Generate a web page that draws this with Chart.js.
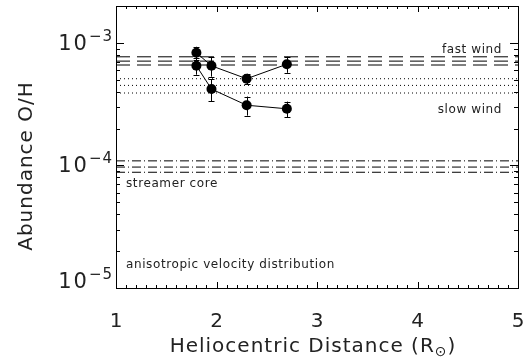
<!DOCTYPE html>
<html>
<head>
<meta charset="UTF-8">
<title>O/H abundance</title>
<script src="https://cdn.jsdelivr.net/npm/chart.js"></script>
<style>
  html, body { margin: 0; padding: 0; background: #fff; }
  #wrap { width: 524px; height: 364px; }
</style>
</head>
<body>
<div id="wrap"><canvas id="c" width="524" height="364"></canvas></div>
<script>
// measured points (two runs), abundance O/H vs heliocentric distance
const distance = [1.8, 1.95, 2.3, 2.7];
const upperOH  = [8.3e-4, 6.5e-4, 5.1e-4, 6.7e-4];
const upperErr = [1.0e-4, 1.2e-4, 0.5e-4, 1.0e-4];
const lowerOH  = [6.5e-4, 4.2e-4, 3.1e-4, 2.9e-4];
const lowerErr = [1.0e-4, 0.85e-4, 0.55e-4, 0.42e-4];

// reference levels
const fastWind = [7.7e-4, 7.1e-4, 6.6e-4];
const slowWind = [5.1e-4, 4.5e-4, 3.9e-4];
const streamerCore = [1.09e-4, 0.97e-4, 0.88e-4];

const xTicks = [1, 2, 3, 4, 5];
const yTicks = [-5, -4, -3];

const FONT = '"DejaVu Sans", sans-serif';
const INK = '#222';

function hline(v, dash) {
  return {
    data: [{ x: 1, y: v }, { x: 5, y: v }],
    borderColor: '#000', borderWidth: 1, borderDash: dash,
    pointRadius: 0, fill: false, order: 2
  };
}

function seriesSet(ys) {
  return {
    data: distance.map((d, i) => ({ x: d, y: ys[i] })),
    borderColor: '#000', borderWidth: 1,
    pointRadius: 5, pointBackgroundColor: '#000', pointBorderColor: '#000',
    pointBorderWidth: 0, fill: false, order: 1
  };
}

const datasets = [
  ...fastWind.map(v => hline(v, [14, 7])),
  ...slowWind.map(v => hline(v, [1, 3])),
  ...streamerCore.map(v => hline(v, [9, 3, 1, 3])),
  seriesSet(upperOH),
  seriesSet(lowerOH)
];

// IDL style frame, inward ticks, labels and annotations
const idlAxes = {
  id: 'idlAxes',
  beforeDatasetsDraw(chart) {
    const { ctx, chartArea: a, scales: { x, y } } = chart;
    ctx.save();
    ctx.strokeStyle = '#000';
    ctx.lineWidth = 1;
    ctx.strokeRect(a.left + 0.5, a.top + 0.5, a.right - a.left, a.bottom - a.top);
    ctx.beginPath();
    // x ticks: majors every 1, minors every 0.1
    for (let i = 10; i <= 50; i++) {
      const px = Math.round(x.getPixelForValue(i / 10)) + 0.5;
      const len = i % 10 === 0 ? 6 : 3;
      ctx.moveTo(px, a.bottom); ctx.lineTo(px, a.bottom - len);
      ctx.moveTo(px, a.top); ctx.lineTo(px, a.top + len);
    }
    // y ticks: log decades with minors 2..9
    for (let e = -5; e <= -3; e++) {
      for (let m = 1; m <= 9; m++) {
        const v = m * Math.pow(10, e);
        if (v > y.max * 1.0001) continue;
        const py = Math.round(y.getPixelForValue(v)) + 0.5;
        const len = m === 1 ? 8 : 4;
        ctx.moveTo(a.left, py); ctx.lineTo(a.left + len, py);
        ctx.moveTo(a.right, py); ctx.lineTo(a.right - len, py);
      }
    }
    ctx.stroke();
    ctx.restore();
  },
  afterDatasetsDraw(chart) {
    const { ctx, chartArea: a, scales: { x, y } } = chart;
    ctx.save();
    ctx.strokeStyle = '#000';
    ctx.fillStyle = INK;
    ctx.lineWidth = 1;

    // error bars
    ctx.beginPath();
    [[upperOH, upperErr], [lowerOH, lowerErr]].forEach(([vals, errs]) => {
      distance.forEach((d, i) => {
        const px = Math.round(x.getPixelForValue(d)) + 0.5;
        const top = y.getPixelForValue(vals[i] + errs[i]);
        const bot = y.getPixelForValue(vals[i] - errs[i]);
        ctx.moveTo(px, top); ctx.lineTo(px, bot);
        ctx.moveTo(px - 3, Math.round(top) + 0.5); ctx.lineTo(px + 3, Math.round(top) + 0.5);
        ctx.moveTo(px - 3, Math.round(bot) + 0.5); ctx.lineTo(px + 3, Math.round(bot) + 0.5);
      });
    });
    ctx.stroke();

    // x tick labels
    ctx.font = '20px ' + FONT;
    ctx.textAlign = 'center';
    ctx.textBaseline = 'alphabetic';
    xTicks.forEach(t => ctx.fillText(String(t), x.getPixelForValue(t), 327));

    // y tick labels 10^n
    yTicks.forEach(e => {
      let py = y.getPixelForValue(Math.pow(10, e)) + 7;
      if (e === -5) py = a.bottom;
      const sup = '\u2212' + String(-e);
      ctx.letterSpacing = '1px';
      ctx.font = '15px ' + FONT;
      const wSup = ctx.measureText(sup).width;
      ctx.textAlign = 'right';
      ctx.fillText(sup, 113, py - 9);
      ctx.letterSpacing = '2px';
      ctx.font = '21px ' + FONT;
      ctx.fillText('10', 113 - wSup, py);
    });

    // axis titles
    const t1 = 'Heliocentric Distance (R';
    ctx.textAlign = 'left';
    ctx.letterSpacing = '1px';
    ctx.font = '14px ' + FONT;
    const wSun = ctx.measureText('\u2299').width;
    ctx.font = '20px ' + FONT;
    const w1 = ctx.measureText(t1).width;
    const w2 = ctx.measureText(')').width;
    const x0 = 313 - (w1 + wSun + w2) / 2;
    ctx.fillText(t1, x0, 352);
    ctx.font = '14px ' + FONT;
    ctx.fillText('\u2299', x0 + w1, 356);
    ctx.font = '20px ' + FONT;
    ctx.fillText(')', x0 + w1 + wSun, 352);

    ctx.save();
    ctx.translate(32, 166);
    ctx.rotate(-Math.PI / 2);
    ctx.textAlign = 'center';
    ctx.fillText('Abundance O/H', 0, 0);
    ctx.restore();

    // annotations
    ctx.font = '12px ' + FONT;
    ctx.letterSpacing = '0.6px';
    ctx.textAlign = 'right';
    ctx.fillText('fast wind', 502, 53);
    ctx.fillText('slow wind', 502, 113);
    ctx.textAlign = 'left';
    ctx.fillText('streamer core', 126, 187);
    ctx.fillText('anisotropic velocity distribution', 126, 268);
    ctx.restore();
  }
};

new Chart(document.getElementById('c'), {
  type: 'line',
  data: { datasets },
  options: {
    responsive: false,
    animation: false,
    events: [],
    layout: { padding: { left: 116, right: 6, top: 6, bottom: 76 } },
    plugins: { legend: { display: false }, tooltip: { enabled: false } },
    scales: {
      x: { type: 'linear', min: 1, max: 5, display: false },
      y: { type: 'logarithmic', min: 1e-5, max: 2e-3, display: false }
    }
  },
  plugins: [idlAxes]
});
</script>
</body>
</html>
